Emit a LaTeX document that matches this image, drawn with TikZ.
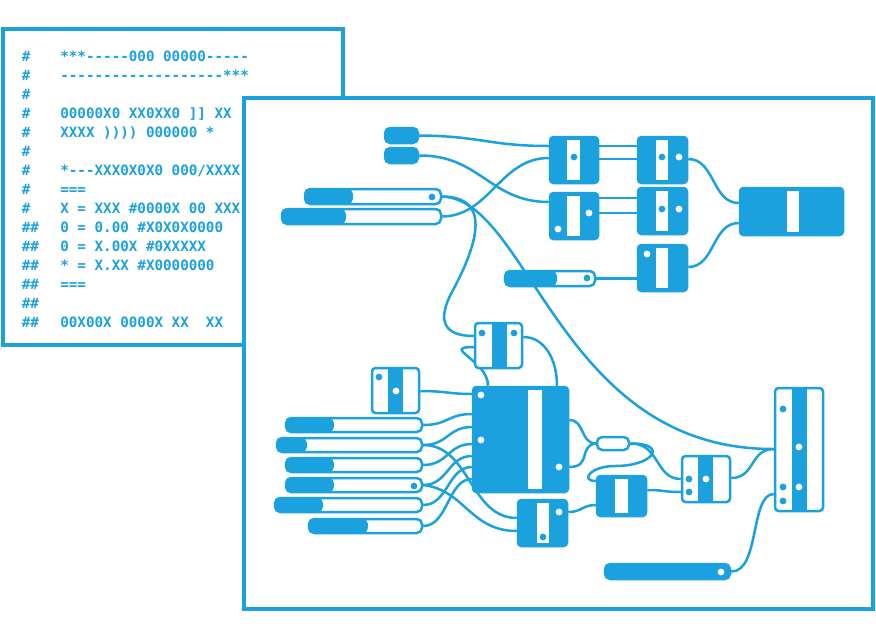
\documentclass[tikz,border=0pt]{standalone}
\usepackage{fontspec}
\setmonofont{DejaVu Sans Mono}
\usepackage{tikz}
\usetikzlibrary{fit}
\definecolor{flow}{RGB}{27,161,222}
\pgfdeclarelayer{back}
\pgfdeclarelayer{wires}
\pgfsetlayers{back,wires,main}

\begin{document}
\begin{tikzpicture}[
  x=0.02cm, y=-0.02cm,
  panel/.style={draw=flow, line width=0.075cm},
  code/.style={text=flow, font=\ttfamily\bfseries\fontsize{8.1}{9}\selectfont,
               inner sep=0pt, anchor=base west},
  blk/.style={draw=flow, fill=flow, line width=0.05cm, rounded corners=2pt, inner sep=0pt},
  hol/.style={blk, fill=white},
  slot/.style={hol, rounded corners=3pt},
  knob/.style={blk, rounded corners=3pt},
  wire/.style={draw=flow, line width=0.05cm}
]
\useasboundingbox (0,0) rectangle (876,633);

% script window and canvas
\begin{pgfonlayer}{back}
\fill[white] (0,0) rectangle (876,633);
\draw[panel] (3,29) rectangle (343,345);
\foreach \h/\t [count=\i] in {
  \#/{***-----000 00000-----},
  \#/{-------------------***},
  \#/{},
  \#/{00000X0 XX0XX0 ]] XX},
  \#/{XXXX )))) 000000 *},
  \#/{},
  \#/{*---XXX0X0X0 000/XXXX},
  \#/{===},
  \#/{X = XXX \#0000X 00 XXX},
  \#\#/{0 = 0.00 \#X0X0X0000},
  \#\#/{0 = X.00X \#0XXXXX},
  \#\#/{* = X.XX \#X0000000},
  \#\#/{===},
  \#\#/{},
  \#\#/{00X00X 0000X XX\ \ XX}}
{
  \node[code] (hash-\i) at (21.4, 42.2+19*\i) {\h};
  \node[code] (line-\i) at (60, 42.2+19*\i) {\t};
}
\draw[panel, fill=white] (244,98) rectangle (873,609);
\end{pgfonlayer}

% upper group
\node[knob, fit={(385,128) (418,143)}] (btn-a) {};
\node[knob, fit={(385,148) (418,163)}] (btn-b) {};
\node[slot, fit={(305,189) (441,204)}] (sl-1) {};
\node[slot, fit={(282,209) (441,224)}] (sl-2) {};
\node[slot, fit={(505,271) (595,286)}] (sl-3) {};
\node[blk, fit={(550,137) (598,183)}] (c-1) {};
\node[blk, fit={(550,193) (598,239)}] (c-2) {};
\node[blk, fit={(638,137) (687,183)}] (c-3) {};
\node[blk, fit={(638,188) (687,234)}] (c-4) {};
\node[blk, fit={(638,245) (687,291)}] (c-5) {};
\node[blk, fit={(740,188) (843,235)}] (out) {};

% lower group
\node[hol, fit={(475,323) (522,368)}] (mix) {};
\node[hol, fit={(372,368) (419,413)}] (pre) {};
\node[blk, fit={(473,387) (568,492)}] (hub) {};
\node[slot, fit={(286,418) (422,432)}] (in-1) {};
\node[slot, fit={(277,438) (422,452)}] (in-2) {};
\node[slot, fit={(286,458) (422,472)}] (in-3) {};
\node[slot, fit={(286,478) (422,492)}] (in-4) {};
\node[slot, fit={(275,498) (422,512)}] (in-5) {};
\node[slot, fit={(309,519) (422,533)}] (in-6) {};
\node[blk, fit={(518,500) (567,546)}] (h-box) {};
\node[slot, fit={(597,437) (629,450)}] (cap) {};
\node[blk, fit={(597,476) (646,516)}] (i-box) {};
\node[hol, fit={(682,456) (730,502)}] (j-box) {};
\node[hol, fit={(775,388) (823,511)}] (sink) {};
\node[knob, fit={(605,564) (730,579)}] (bar) {};

% slider fills
\fill[flow, rounded corners=3pt] (305,189) rectangle (353,204);
\fill[flow, rounded corners=3pt] (282,209) rectangle (346,224);
\fill[flow, rounded corners=3pt] (505,271) rectangle (557,286);
\fill[flow, rounded corners=3pt] (286,418) rectangle (334,432);
\fill[flow, rounded corners=3pt] (277,438) rectangle (307,452);
\fill[flow, rounded corners=3pt] (286,458) rectangle (334,472);
\fill[flow, rounded corners=3pt] (286,478) rectangle (334,492);
\fill[flow, rounded corners=3pt] (275,498) rectangle (323,512);
\fill[flow, rounded corners=3pt] (309,519) rectangle (368,533);

% stripes
\foreach \a/\b/\c/\d in {567/140/580/180, 567/196/580/236, 656/140/668/180,
  656/191/668/231, 656/248/668/288, 787/191/799/232, 528/390/542/489,
  537/503/549/543, 615/479/628/513}
  \fill[white] (\a,\b) rectangle (\c,\d);
\foreach \a/\b/\c/\d in {492/323/507/368, 388/368/403/413, 698/456/713/502, 792/388/807/511}
  \fill[flow] (\a,\b) rectangle (\c,\d);

% ports
\foreach \x/\y in {574/157, 662/157, 662/209, 482/333, 514/333, 379/377, 543/537, 689/479,
  689/492, 783/409, 783/487, 783/501, 432/197, 587/278, 414/486}
  \fill[flow] (\x,\y) circle (0.068cm);
\foreach \x/\y in {589/213, 558/229, 679/157, 679/209, 647/254, 396/391, 481/395, 481/440,
  559/467, 559/512, 706/479, 799/447, 799/487, 721/572}
  \fill[white] (\x,\y) circle (0.068cm);

\begin{pgfonlayer}{wires}
\draw[wire] (btn-a.east) .. controls (480,136) and (490,146) .. (c-1.west |- 0,146);
\draw[wire] (btn-b.east) .. controls (480,155) and (490,202) .. (c-2.west |- 0,202);
\draw[wire] (sl-2.east) .. controls (490,216) and (500,158) .. (c-1.west |- 0,158);
\draw[wire] (c-1.east |- 0,146) -- (c-3.west |- 0,146);
\draw[wire] (c-1.east |- 0,159) -- (c-3.west |- 0,159);
\draw[wire] (c-2.east |- 0,198) -- (c-4.west |- 0,198);
\draw[wire] (c-2.east |- 0,213) -- (c-4.west |- 0,213);
\draw[wire] (c-3.east |- 0,159) .. controls (715,159) and (712,203) .. (out.west |- 0,203);
\draw[wire] (c-5.east |- 0,267) .. controls (715,267) and (712,223) .. (out.west |- 0,223);
\draw[wire] (sl-3.east) -- (c-5.west |- sl-3.east);
\draw[wire] (sl-1.east) .. controls (530,200) and (560,450) .. (sink.west |- 0,449);
\draw[wire] (sl-1.east) .. controls (490,197) and (480,240) .. (452,292)
  .. controls (436,322) and (445,336) .. (mix.west |- 0,336);
\draw[wire] (mix.west |- 0,347) .. controls (440,347) and (488,360) .. (hub.north -| 488,0);
\draw[wire] (mix.east |- 0,337) .. controls (545,337) and (557,360) .. (hub.north -| 557,0);
\draw[wire] (pre.east |- 0,391) .. controls (445,391) and (450,394) .. (hub.west |- 0,394);
\draw[wire] (in-1.east) .. controls (448,425) and (448,414) .. (hub.west |- 0,414);
\draw[wire] (in-2.east) .. controls (448,445) and (448,427) .. (hub.west |- 0,427);
\draw[wire] (in-3.east) .. controls (448,465) and (448,444) .. (hub.west |- 0,444);
\draw[wire] (in-4.east) .. controls (448,485) and (448,456) .. (hub.west |- 0,456);
\draw[wire] (in-5.east) .. controls (448,505) and (448,467) .. (hub.west |- 0,467);
\draw[wire] (in-6.east) .. controls (448,526) and (448,479) .. (hub.west |- 0,479);
\draw[wire] (in-2.east) .. controls (470,445) and (470,518) .. (h-box.west |- 0,518);
\draw[wire] (in-4.east) .. controls (465,490) and (470,531) .. (h-box.west |- 0,531);
\draw[wire] (hub.east |- 0,420) .. controls (585,420) and (580,443) .. (cap.west);
\draw[wire] (hub.east |- 0,467) .. controls (592,467) and (578,446) .. (cap.west);
\draw[wire] (cap.east) .. controls (668,443) and (655,466) .. (615,466)
  .. controls (590,466) and (580,481) .. (i-box.west |- 0,481);
\draw[wire] (cap.east) .. controls (660,443) and (655,479) .. (j-box.west |- 0,479);
\draw[wire] (i-box.east |- 0,490) .. controls (665,490) and (662,492) .. (j-box.west |- 0,492);
\draw[wire] (h-box.east |- 0,512) .. controls (582,512) and (582,505) .. (i-box.west |- 0,505);
\draw[wire] (j-box.east |- 0,478) .. controls (755,478) and (750,449) .. (sink.west |- 0,449);
\draw[wire] (bar.east) .. controls (760,572) and (750,494) .. (sink.west |- 0,494);
\end{pgfonlayer}
\end{tikzpicture}
\end{document}
